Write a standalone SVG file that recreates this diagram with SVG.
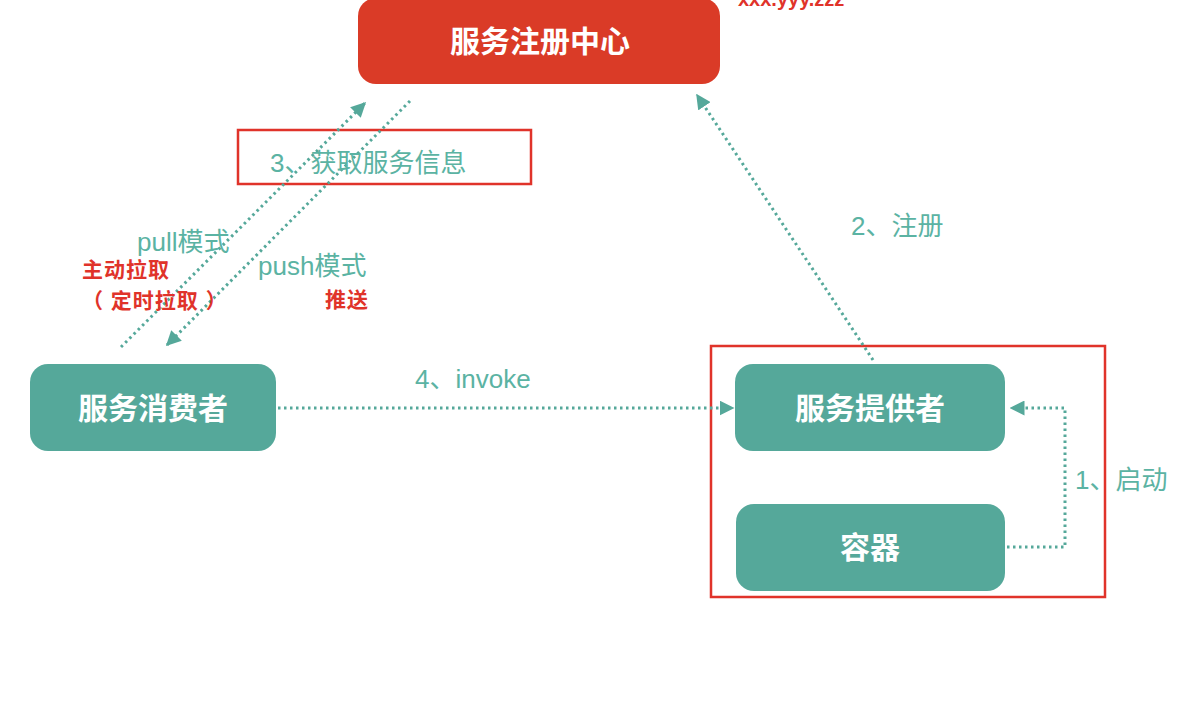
<svg xmlns="http://www.w3.org/2000/svg" width="1196" height="714" viewBox="0 0 1196 714">
<style>
.node{fill:#55a89a}
.ntext{fill:#ffffff;font-family:"Noto Sans CJK SC","Liberation Sans",sans-serif;font-weight:bold;font-size:30px;text-anchor:middle}
.lbl{fill:#5bb3a3;font-family:"Liberation Sans","Noto Sans CJK SC",sans-serif;font-size:26px}
.red{fill:#e0332a;font-family:"Liberation Sans","Noto Sans CJK SC",sans-serif;font-size:21px;font-weight:bold;letter-spacing:1px}
.conn{fill:none;stroke:#55a89a;stroke-width:3;stroke-dasharray:2.5,3.5}
.frame{fill:none;stroke:#e0332a;stroke-width:2.5}
</style>
<defs>
<marker id="ah" viewBox="0 0 10 10" refX="9" refY="5" markerWidth="5" markerHeight="5" orient="auto" markerUnits="strokeWidth">
<path d="M0,0 L10,5 L0,10 z" fill="#55a89a"/>
</marker>
</defs>
<rect width="1196" height="714" fill="#ffffff"/>
<g id="registry">
<rect x="358" y="-2" width="362" height="86" rx="18" fill="#da3b27"/>
<text class="ntext" x="540" y="52">服务注册中心</text>
</g>
<text id="addr" x="738" y="6" fill="#e0332a" font-family="Liberation Sans,sans-serif" font-size="20" font-weight="bold">xxx.yyy.zzz</text>
<g id="consumer">
<rect class="node" x="30" y="364" width="246" height="87" rx="18"/>
<text class="ntext" x="153" y="419">服务消费者</text>
</g>
<g id="provider">
<rect class="node" x="735" y="364" width="270" height="87" rx="18"/>
<text class="ntext" x="870" y="419">服务提供者</text>
</g>
<g id="container">
<rect class="node" x="736" y="504" width="269" height="87" rx="18"/>
<text class="ntext" x="870" y="558">容器</text>
</g>
<g id="frames">
<rect class="frame" x="711" y="346" width="394" height="251"/>
<rect class="frame" x="238" y="130" width="293" height="54"/>
</g>
<g id="connectors">
<line class="conn" x1="121" y1="347" x2="365" y2="103" marker-end="url(#ah)"/>
<line class="conn" x1="410" y1="101" x2="167" y2="345" marker-end="url(#ah)"/>
<line class="conn" x1="873" y1="360" x2="697" y2="95" marker-end="url(#ah)"/>
<line class="conn" x1="278" y1="408" x2="733" y2="408" marker-end="url(#ah)"/>
<polyline class="conn" points="1007,547 1065,547 1065,408 1011,408" marker-end="url(#ah)"/>
</g>
<g id="labels">
<text class="lbl" x="270" y="172">3、获取服务信息</text>
<text class="lbl" x="137" y="251">pull模式</text>
<text class="lbl" x="258" y="275">push模式</text>
<text class="red" x="82" y="277">主动拉取</text>
<text class="red" x="82" y="308">（ 定时拉取 ）</text>
<text class="red" x="325" y="307">推送</text>
<text class="lbl" x="851" y="235">2、注册</text>
<text class="lbl" x="415" y="388">4、invoke</text>
<text class="lbl" x="1075" y="489">1、启动</text>
</g>
</svg>
